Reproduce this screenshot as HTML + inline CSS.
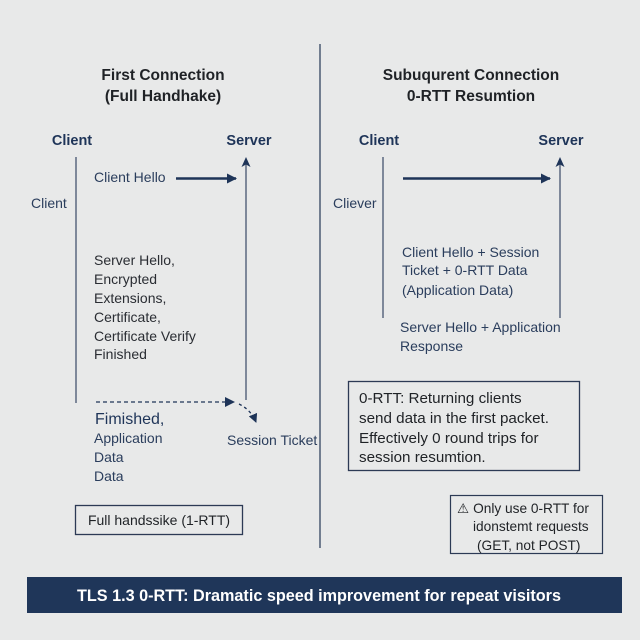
<!DOCTYPE html>
<html><head><meta charset="utf-8"><style>
html,body{margin:0;padding:0;background:#e8e9e9;}
svg{display:block;}
text{font-family:"Liberation Sans",Arial,sans-serif;}
</style></head><body>
<svg width="640" height="640" viewBox="0 0 640 640" xmlns="http://www.w3.org/2000/svg">
<defs>
<marker id="ah" markerWidth="10" markerHeight="10" refX="9" refY="5" orient="auto" markerUnits="userSpaceOnUse">
<path d="M0,0 L10,5 L0,10 Z" fill="#1e3458"/></marker>
<marker id="ahs" markerWidth="9" markerHeight="9" refX="8" refY="4.5" orient="auto" markerUnits="userSpaceOnUse">
<path d="M0,0 L9,4.5 L0,9 Z" fill="#1e3458"/></marker>
</defs>
<rect width="640" height="640" fill="#e8e9e9"/>
<!-- divider -->
<line x1="320" y1="44" x2="320" y2="548" stroke="#4a5a72" stroke-width="1.5"/>

<!-- LEFT -->
<text x="163" y="80" font-size="15.5" font-weight="bold" fill="#1f2226" text-anchor="middle">First Connection</text>
<text x="163" y="101" font-size="15.5" font-weight="bold" fill="#1f2226" text-anchor="middle">(Full Handhake)</text>
<text x="72" y="145" font-size="14.5" font-weight="bold" fill="#1e3458" text-anchor="middle">Client</text>
<text x="249" y="145" font-size="14.5" font-weight="bold" fill="#1e3458" text-anchor="middle">Server</text>
<line x1="76" y1="157" x2="76" y2="403" stroke="#5a6880" stroke-width="1.5"/>
<line x1="246" y1="400" x2="246" y2="160" stroke="#5a6880" stroke-width="1.5"/>
<path d="M246,157 L250.5,167 L246,164.5 L241.5,167 Z" fill="#1e3458"/>
<text x="94" y="182" font-size="14" fill="#2a3d5c">Client Hello</text>
<line x1="176" y1="178.5" x2="236" y2="178.5" stroke="#1e3458" stroke-width="2.5" marker-end="url(#ah)"/>
<text x="31" y="208" font-size="14" fill="#2a3d5c">Client</text>
<g font-size="14" fill="#2a2d33">
<text x="94" y="265">Server Hello,</text>
<text x="94" y="284">Encrypted</text>
<text x="94" y="303">Extensions,</text>
<text x="94" y="322">Certificate,</text>
<text x="94" y="341">Certificate Verify</text>
<text x="94" y="359">Finished</text>
</g>
<line x1="96" y1="402" x2="234" y2="402" stroke="#1e3458" stroke-width="1.3" stroke-dasharray="4,3" marker-end="url(#ah)"/>
<path d="M239,404 Q251,410 256,422" fill="none" stroke="#1e3458" stroke-width="1.3" stroke-dasharray="3,3" marker-end="url(#ahs)"/>
<text x="95" y="424" font-size="16" fill="#1e3458">Fimished,</text>
<g font-size="14" fill="#2a3d5c">
<text x="94" y="443">Application</text>
<text x="94" y="462">Data</text>
<text x="94" y="481">Data</text>
</g>
<text x="227" y="445" font-size="14" fill="#2a3d5c">Session Ticket</text>
<rect x="75.5" y="505.5" width="167" height="29" fill="none" stroke="#2c3a55" stroke-width="1.3"/>
<text x="159" y="525" font-size="14" fill="#1f2226" text-anchor="middle">Full handssike (1-RTT)</text>

<!-- RIGHT -->
<text x="471" y="80" font-size="15.5" font-weight="bold" fill="#1f2226" text-anchor="middle">Subuqurent Connection</text>
<text x="471" y="101" font-size="15.5" font-weight="bold" fill="#1f2226" text-anchor="middle">0-RTT Resumtion</text>
<text x="379" y="145" font-size="14.5" font-weight="bold" fill="#1e3458" text-anchor="middle">Client</text>
<text x="561" y="145" font-size="14.5" font-weight="bold" fill="#1e3458" text-anchor="middle">Server</text>
<line x1="383" y1="157" x2="383" y2="318" stroke="#5a6880" stroke-width="1.5"/>
<line x1="560" y1="318" x2="560" y2="160" stroke="#5a6880" stroke-width="1.5"/>
<path d="M560,157 L564.5,167 L560,164.5 L555.5,167 Z" fill="#1e3458"/>
<line x1="403" y1="178.5" x2="550" y2="178.5" stroke="#1e3458" stroke-width="2.5" marker-end="url(#ah)"/>
<text x="333" y="208" font-size="14" fill="#2a3d5c">Cliever</text>
<g font-size="14" fill="#2a3d5c">
<text x="402" y="257">Client Hello + Session</text>
<text x="402" y="275">Ticket + 0-RTT Data</text>
<text x="402" y="295">(Application Data)</text>
<text x="400" y="332">Server Hello + Application</text>
<text x="400" y="351">Response</text>
</g>
<rect x="348.5" y="381.5" width="231" height="89" fill="none" stroke="#2c3a55" stroke-width="1.3"/>
<g font-size="15.2" fill="#1f2226">
<text x="359" y="403">0-RTT: Returning clients</text>
<text x="359" y="423">send data in the first packet.</text>
<text x="359" y="443">Effectively 0 round trips for</text>
<text x="359" y="462">session resumtion.</text>
</g>
<rect x="450.5" y="495.5" width="152" height="58" fill="none" stroke="#2c3a55" stroke-width="1.2"/>
<g font-size="13.7" fill="#1f2226">
<text x="457" y="513">⚠ Only use 0-RTT for</text>
<text x="473" y="531">idonstemt requests</text>
<text x="477" y="550">(GET, not POST)</text>
</g>

<!-- banner -->
<rect x="27" y="577" width="595" height="36" fill="#1f3659"/>
<text x="319" y="601" font-size="16.2" font-weight="bold" fill="#ffffff" text-anchor="middle">TLS 1.3 0-RTT: Dramatic speed improvement for repeat visitors</text>
</svg>
</body></html>
